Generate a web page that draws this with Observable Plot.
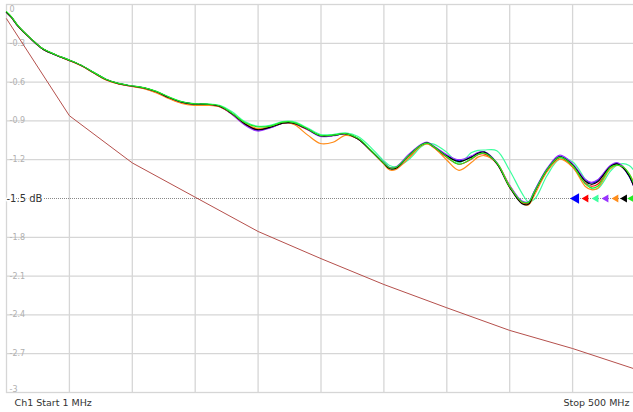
<!DOCTYPE html>
<html><head><meta charset="utf-8">
<script src="https://cdn.jsdelivr.net/npm/d3@7"></script>
<script src="https://cdn.jsdelivr.net/npm/@observablehq/plot@0.6"></script>
<style>html,body{margin:0;padding:0;background:#fff;} svg{display:block}</style>
</head><body><div id="chart"></div>
<script>
// ---- data ----
const startMHz = 1, stopMHz = 500;
const limitDb = -1.5;
const yTicks = [0, -0.3, -0.6, -0.9, -1.2, -1.5, -1.8, -2.1, -2.4, -2.7, -3];
const gridFreqs = [50.9, 100.8, 150.7, 200.6, 250.5, 300.4, 350.3, 400.2, 450.1];

const freqs = [1,5,10,20,30,40,50,60,70,80,90,100,110,120,130,140,150,160,170,180,190,200,210,220,225,230,240,250,260,270,280,290,300,305,310,320,330,335,340,350,360,370,375,380,390,400,410,415,420,430,440,450,460,465,470,480,485,490,495,500];

const traceNames = ["Tr1","Tr2","Tr3","Tr4","Tr5","Tr6","Tr7"];
const traceColors = ["#0000ff","#ff0000","#3dff9e","#9933ff","#ff8c1a","#000000","#22ee22"];

const tr1 = [-0.06,-0.10,-0.165,-0.262,-0.345,-0.39,-0.428,-0.47,-0.525,-0.58, -0.612,-0.63,-0.645,-0.675,-0.72,-0.755,-0.77,-0.772,-0.787,-0.845, -0.925,-0.972,-0.952,-0.918,-0.913,-0.922,-0.965,-1.015,-1.012,-1.0, -1.04,-1.128,-1.22,-1.262,-1.258,-1.165,-1.085,-1.07,-1.1,-1.167, -1.208,-1.175,-1.148,-1.14,-1.225,-1.40,-1.525,-1.53,-1.44,-1.27, -1.175,-1.24,-1.355,-1.38,-1.36,-1.25,-1.228,-1.26,-1.33,-1.44];
const tr2 = [-0.06,-0.10,-0.165,-0.262,-0.345,-0.39,-0.43,-0.472,-0.527,-0.582, -0.614,-0.632,-0.647,-0.678,-0.723,-0.758,-0.773,-0.775,-0.79,-0.848, -0.925,-0.965,-0.948,-0.917,-0.913,-0.925,-0.968,-1.015,-1.012,-1.0, -1.04,-1.13,-1.225,-1.265,-1.26,-1.175,-1.09,-1.075,-1.105,-1.18, -1.235,-1.195,-1.162,-1.155,-1.23,-1.41,-1.53,-1.535,-1.445,-1.28, -1.185,-1.255,-1.38,-1.405,-1.39,-1.265,-1.24,-1.26,-1.32,-1.44];
const tr3 = [-0.06,-0.10,-0.165,-0.262,-0.345,-0.39,-0.428,-0.47,-0.525,-0.58, -0.612,-0.63,-0.645,-0.673,-0.716,-0.75,-0.766,-0.768,-0.78,-0.83, -0.905,-0.94,-0.935,-0.905,-0.902,-0.91,-0.955,-1.005,-1.005,-0.992, -1.02,-1.105,-1.205,-1.245,-1.255,-1.2,-1.1,-1.075,-1.08,-1.14, -1.225,-1.145,-1.128,-1.125,-1.13,-1.28,-1.46,-1.525,-1.505,-1.32, -1.195,-1.215,-1.35,-1.42,-1.425,-1.29,-1.245,-1.23,-1.245,-1.30];
const tr4 = [-0.06,-0.10,-0.165,-0.262,-0.345,-0.39,-0.428,-0.47,-0.525,-0.58, -0.612,-0.632,-0.648,-0.68,-0.725,-0.76,-0.775,-0.775,-0.788,-0.85, -0.932,-0.978,-0.955,-0.918,-0.913,-0.922,-0.968,-1.02,-1.015,-1.0, -1.04,-1.128,-1.22,-1.26,-1.255,-1.16,-1.08,-1.065,-1.095,-1.16, -1.2,-1.17,-1.145,-1.14,-1.225,-1.395,-1.52,-1.525,-1.44,-1.265, -1.165,-1.23,-1.35,-1.375,-1.355,-1.245,-1.222,-1.25,-1.32,-1.43];
const tr5 = [-0.06,-0.10,-0.165,-0.262,-0.345,-0.39,-0.43,-0.472,-0.528,-0.583, -0.615,-0.633,-0.65,-0.683,-0.728,-0.765,-0.78,-0.78,-0.79,-0.845, -0.92,-0.958,-0.945,-0.918,-0.915,-0.932,-1.01,-1.075,-1.065,-1.012, -1.04,-1.13,-1.23,-1.28,-1.275,-1.19,-1.092,-1.078,-1.105,-1.2, -1.282,-1.22,-1.18,-1.168,-1.225,-1.40,-1.535,-1.55,-1.47,-1.29, -1.195,-1.255,-1.405,-1.432,-1.42,-1.27,-1.245,-1.255,-1.31,-1.40];
const tr6 = [-0.06,-0.10,-0.165,-0.262,-0.345,-0.39,-0.428,-0.47,-0.525,-0.58, -0.612,-0.63,-0.645,-0.675,-0.72,-0.755,-0.77,-0.772,-0.787,-0.845, -0.922,-0.968,-0.95,-0.917,-0.913,-0.922,-0.965,-1.015,-1.012,-1.0, -1.04,-1.13,-1.225,-1.27,-1.265,-1.17,-1.087,-1.07,-1.1,-1.17, -1.215,-1.18,-1.15,-1.142,-1.23,-1.41,-1.54,-1.545,-1.45,-1.275, -1.178,-1.24,-1.365,-1.39,-1.37,-1.255,-1.232,-1.26,-1.325,-1.44];
const tr7 = [-0.055,-0.095,-0.162,-0.26,-0.343,-0.388,-0.426,-0.468,-0.523,-0.578, -0.61,-0.628,-0.643,-0.672,-0.716,-0.752,-0.768,-0.77,-0.783,-0.84, -0.912,-0.945,-0.94,-0.91,-0.905,-0.915,-0.962,-1.012,-1.01,-0.998, -1.035,-1.125,-1.222,-1.262,-1.258,-1.17,-1.087,-1.072,-1.1,-1.175, -1.235,-1.19,-1.16,-1.15,-1.225,-1.405,-1.525,-1.53,-1.445,-1.275, -1.18,-1.245,-1.385,-1.418,-1.405,-1.26,-1.242,-1.255,-1.31,-1.42];
const traceValues = [tr1, tr2, tr3, tr4, tr5, tr6, tr7];

// reference (memory) trace
const refFreqs = [1, 50.9, 100.8, 150.7, 200.6, 250.5, 300.4, 350.3, 400.2, 450.1, 500];
const refDb = [-0.11, -0.86, -1.225, -1.49, -1.755, -1.965, -2.165, -2.345, -2.52, -2.66, -2.82];

// markers (display positions along the limit line)
const markerFreqs = [452.8, 460.8, 468.8, 476.7, 484.6, 491.4, 497.0];

// ---- build tables ----
const table = traceNames.flatMap((name, k) => freqs.map((f, i) => ({name, f, db: traceValues[k][i]})));
const refTable = refFreqs.map((f, i) => ({f, db: refDb[i]}));
const markers = traceNames.map((name, i) => ({name, f: markerFreqs[i], db: limitDb}));

const gridColor = "#d6d6d6";
const chart = Plot.plot({
  width: 633, height: 412,
  marginLeft: 6, marginRight: -2, marginTop: 4, marginBottom: 20,
  x: {domain: [startMHz, stopMHz], axis: null},
  y: {domain: [-3, 0], axis: null},
  color: {domain: traceNames, range: traceColors},
  style: {fontFamily: "DejaVu Sans", background: "#fff"},
  marks: [
    Plot.ruleX(gridFreqs, {stroke: gridColor, strokeWidth: 1.3}),
    Plot.ruleY(yTicks.filter(d => d !== limitDb && d !== 0 && d !== -3), {stroke: gridColor, strokeWidth: 1.3}),
    Plot.frame({stroke: gridColor, strokeWidth: 1.3}),
    Plot.ruleY([limitDb], {stroke: "#888", strokeDasharray: "1,1"}),
    Plot.text(yTicks.filter(d => d !== limitDb && d !== 0 && d !== -3), {y: d => d, text: d => String(d), frameAnchor: "left", dx: 3, textAnchor: "start", fill: "#b0b0b0", fontSize: 8}),
    Plot.text([0], {y: d => d, text: d => String(d), frameAnchor: "left", dx: 3, dy: 2, lineAnchor: "top", textAnchor: "start", fill: "#b0b0b0", fontSize: 8}),
    Plot.text([-3], {y: d => d, text: d => String(d), frameAnchor: "left", dx: 3, dy: -1, lineAnchor: "bottom", textAnchor: "start", fill: "#b0b0b0", fontSize: 8}),
    Plot.line(refTable, {x: "f", y: "db", stroke: "#b5504c", strokeWidth: 1}),
    Plot.line(table, {x: "f", y: "db", z: "name", stroke: "name", curve: "catmull-rom", strokeWidth: 1.2}),
    Plot.text([limitDb], {y: d => d, text: d => `${d} dB`, frameAnchor: "left", dx: 0, textAnchor: "start", fill: "#333", fontSize: 10, stroke: "white", strokeWidth: 3}),
    Plot.dot(markers.slice(1), {x: "f", y: "db", fill: "name", symbol: "triangle", rotate: -90, r: 2.9}),
    Plot.dot(markers.slice(0, 1), {x: "f", y: "db", fill: "name", symbol: "triangle", rotate: -90, r: 3.9}),
    Plot.text([`Ch1 Start ${startMHz} MHz`], {frameAnchor: "bottom-left", dx: 8, dy: 13, textAnchor: "start", fill: "#333", fontSize: 9.5}),
    Plot.text([`Stop ${stopMHz} MHz`], {frameAnchor: "bottom-right", dx: -6, dy: 13, textAnchor: "end", fill: "#333", fontSize: 9.5})
  ]
});
document.getElementById("chart").append(chart);
</script>
</body></html>
